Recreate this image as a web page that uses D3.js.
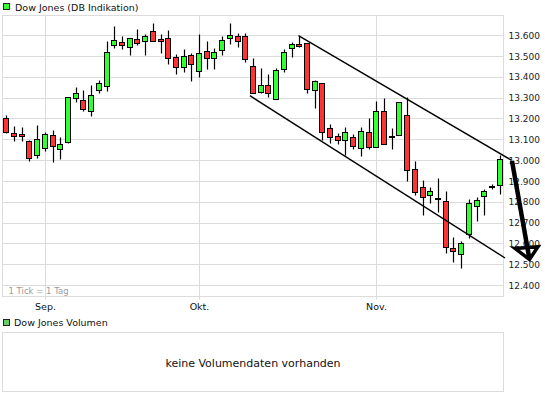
<!DOCTYPE html>
<html>
<head>
<meta charset="utf-8">
<script src="https://d3js.org/d3.v7.min.js"></script>
<style>
  body { margin: 0; background: #fff; }
  text { font-family: "DejaVu Sans", Verdana, sans-serif; }
</style>
</head>
<body>
<div id="chart"></div>
<script>

// trading days (DB Indikation trades every weekday)
var dates = [
  "2012-08-27","2012-08-28","2012-08-29","2012-08-30","2012-08-31",
  "2012-09-03","2012-09-04","2012-09-05","2012-09-06","2012-09-07",
  "2012-09-10","2012-09-11","2012-09-12","2012-09-13","2012-09-14",
  "2012-09-17","2012-09-18","2012-09-19","2012-09-20","2012-09-21",
  "2012-09-24","2012-09-25","2012-09-26","2012-09-27","2012-09-28",
  "2012-10-01","2012-10-02","2012-10-03","2012-10-04","2012-10-05",
  "2012-10-08","2012-10-09","2012-10-10","2012-10-11","2012-10-12",
  "2012-10-15","2012-10-16","2012-10-17","2012-10-18","2012-10-19",
  "2012-10-22","2012-10-23","2012-10-24","2012-10-25","2012-10-26",
  "2012-10-29","2012-10-30","2012-10-31","2012-11-01","2012-11-02",
  "2012-11-05","2012-11-06","2012-11-07","2012-11-08","2012-11-09",
  "2012-11-12","2012-11-13","2012-11-14","2012-11-15","2012-11-16",
  "2012-11-19","2012-11-20","2012-11-21","2012-11-22","2012-11-23"
];

var open = [
  13202,13130,13127,13094,13025, 13058,13121,13054,13090,13298,
  13290,13236,13337,13359,13553, 13567,13546,13582,13572,13622,
  13582,13586,13495,13450,13505, 13431,13524,13490,13529,13586,
  13596,13596,13454,13330,13362, 13295,13439,13538,13559,13562,
  13337,13370,13154,13116,13098, 13111,13058,13138,13063,13239,
  13120,13122,13217,12961,12874, 12833,12818,12804,12578,12550,
  12646,12780,12828,12879,12881
];
var high = [
  13218,13166,13159,13098,13170, 13138,13146,13111,13303,13351,
  13338,13362,13386,13574,13646, 13599,13590,13631,13607,13660,
  13607,13626,13510,13535,13514, 13606,13574,13538,13596,13660,
  13610,13610,13490,13442,13415, 13446,13535,13570,13598,13562,
  13386,13370,13174,13133,13162, 13126,13159,13202,13286,13298,
  13154,13279,13306,12998,12906, 12874,12914,12855,12634,12614,
  12815,12823,12863,12887,13025
];
var low = [
  13134,13095,13095,13000,13014, 13047,12994,13007,13082,13282,
  13240,13215,13324,13335,13538, 13534,13506,13554,13506,13575,
  13518,13465,13417,13426,13383, 13402,13439,13441,13506,13558,
  13546,13474,13322,13326,13306, 13295,13423,13498,13543,13322,
  13250,13098,13082,13078,13026, 13055,13023,13055,13063,13079,
  13054,13122,12902,12833,12738, 12798,12751,12554,12511,12482,
  12626,12711,12740,12862,12839
];
var close = [
  13138,13118,13118,13010,13101, 13126,13068,13078,13303,13322,
  13246,13314,13370,13519,13578, 13553,13586,13562,13599,13575,
  13572,13490,13447,13500,13462, 13514,13490,13519,13577,13601,
  13572,13486,13322,13362,13322, 13434,13519,13559,13548,13342,
  13382,13135,13111,13098,13135, 13072,13140,13066,13239,13079,
  13118,13279,12954,12849,12823, 12852,12814,12585,12564,12602,
  12794,12810,12854,12877,13006
];

var priceTicks = [12400,12500,12600,12700,12800,12900,13000,13100,13200,13300,13400,13500,13600];
var monthStarts = ["2012-09-03", "2012-10-01", "2012-11-01"];
var monthLabels = ["Sep.", "Okt.", "Nov."];

// hand-drawn trend channel and arrow, as [day index, price]
var upperChannel = [[37.9, 13599], [65.5, 13002]];
var lowerChannel = [[31.6, 13311], [64.7, 12532]];
var arrowShaft = [[65.6, 12998], [67.85, 12530]];
var arrowHead = [[66.0, 12578], [68.97, 12586], [67.87, 12525]];

var width = 545, height = 401;

var svg = d3.select("#chart").append("svg")
  .attr("width", width)
  .attr("height", height);

var plot = {left: 2.5, right: 503.5, top: 15.5, bottom: 296.5};

var x = d3.scaleLinear()
  .domain([-0.5, dates.length - 0.5])
  .range([plot.left, plot.right]);

var y = d3.scaleLinear()
  .domain([12400, 13600])
  .range([285.5, 35.5]);

var de = d3.formatLocale({decimal: ",", thousands: ".", grouping: [3], currency: ["", " €"]});
var fmt = de.format(",.0f");

var gridColor = "#dcdcdc";

// legend
svg.append("rect")
  .attr("x", 3.5).attr("y", 3.5).attr("width", 6).attr("height", 6)
  .attr("fill", "#33ff33").attr("stroke", "#222");
svg.append("text")
  .attr("x", 15).attr("y", 10.5)
  .style("font-size", "9.5px")
  .attr("fill", "#111")
  .text("Dow Jones (DB Indikation)");

// horizontal grid
svg.append("g")
  .selectAll("line")
  .data(priceTicks)
  .enter().append("line")
  .attr("x1", plot.left).attr("x2", plot.right)
  .attr("y1", function(d) { return Math.round(y(d) - 0.5) + 0.5; })
  .attr("y2", function(d) { return Math.round(y(d) - 0.5) + 0.5; })
  .attr("stroke", gridColor);

// vertical month grid + ticks below the frame
svg.append("g")
  .selectAll("line")
  .data(monthStarts)
  .enter().append("line")
  .attr("x1", function(d) { return Math.round(x(dates.indexOf(d))) + 0.5; })
  .attr("x2", function(d) { return Math.round(x(dates.indexOf(d))) + 0.5; })
  .attr("y1", plot.top).attr("y2", plot.bottom + 3)
  .attr("stroke", gridColor);

// frame
svg.append("rect")
  .attr("x", plot.left).attr("y", plot.top)
  .attr("width", plot.right - plot.left)
  .attr("height", plot.bottom - plot.top)
  .attr("fill", "none")
  .attr("stroke", gridColor);

svg.append("text")
  .attr("x", 8.5).attr("y", 294)
  .style("font-size", "8.5px")
  .attr("fill", "#9a9a9a")
  .text("1 Tick = 1 Tag");

// y labels
svg.append("g")
  .selectAll("text")
  .data(priceTicks)
  .enter().append("text")
  .attr("x", 508.5)
  .attr("y", function(d) { return y(d) + 3.3; })
  .style("font-size", "9px")
  .attr("fill", "#222")
  .text(function(d) { return fmt(d); });

// month labels
svg.append("g")
  .selectAll("text")
  .data(monthStarts)
  .enter().append("text")
  .attr("x", function(d) { return Math.round(x(dates.indexOf(d))) + 0.5; })
  .attr("y", 310)
  .attr("text-anchor", "middle")
  .style("font-size", "9.5px")
  .attr("fill", "#111")
  .text(function(d, i) { return monthLabels[i]; });

// candles
var candles = svg.append("g")
  .selectAll("g")
  .data(dates)
  .enter().append("g");

function cx(i) { return Math.round(x(i)); }

candles.append("line")
  .attr("x1", function(d, i) { return cx(i) + 0.5; })
  .attr("x2", function(d, i) { return cx(i) + 0.5; })
  .attr("y1", function(d, i) { return Math.round(y(high[i])) + 0.5; })
  .attr("y2", function(d, i) { return Math.round(y(low[i])) + 0.5; })
  .attr("stroke", "#000")
  .attr("stroke-width", 1.2);

candles.append("rect")
  .attr("x", function(d, i) { return cx(i) - 2.5; })
  .attr("y", function(d, i) { return Math.round(y(Math.max(open[i], close[i]))) + 0.5; })
  .attr("width", 5)
  .attr("height", function(d, i) {
    var h = Math.round(y(Math.min(open[i], close[i]))) - Math.round(y(Math.max(open[i], close[i])));
    return Math.max(1, h);
  })
  .attr("fill", function(d, i) { return close[i] >= open[i] ? "#33ff33" : "#ff3333"; })
  .attr("stroke", "#000")
  .attr("stroke-width", 1);

// trend channel
var line = d3.line()
  .x(function(d) { return x(d[0]); })
  .y(function(d) { return y(d[1]); });

svg.append("path").datum(upperChannel)
  .attr("d", line).attr("fill", "none")
  .attr("stroke", "#000").attr("stroke-width", 1.4);
svg.append("path").datum(lowerChannel)
  .attr("d", line).attr("fill", "none")
  .attr("stroke", "#000").attr("stroke-width", 1.4);

// arrow
svg.append("path").datum(arrowShaft)
  .attr("d", line).attr("fill", "none")
  .attr("stroke", "#000").attr("stroke-width", 4.5);
svg.append("path").datum(arrowHead)
  .attr("d", line.curve(d3.curveLinearClosed)).attr("fill", "none")
  .attr("stroke", "#000").attr("stroke-width", 3.5)
  .attr("stroke-linejoin", "miter");

// volume panel
svg.append("rect")
  .attr("x", 3.5).attr("y", 319.5).attr("width", 6).attr("height", 6)
  .attr("fill", "#66cc66").attr("stroke", "#222");
svg.append("text")
  .attr("x", 14).attr("y", 326)
  .style("font-size", "9.5px")
  .attr("fill", "#111")
  .text("Dow Jones Volumen");

svg.append("rect")
  .attr("x", plot.left).attr("y", 332.5)
  .attr("width", plot.right - plot.left).attr("height", 59)
  .attr("fill", "none")
  .attr("stroke", gridColor);

svg.append("text")
  .attr("x", (plot.left + plot.right) / 2).attr("y", 367)
  .attr("text-anchor", "middle")
  .style("font-size", "11px")
  .attr("fill", "#111")
  .text("keine Volumendaten vorhanden");

</script>
</body>
</html>
